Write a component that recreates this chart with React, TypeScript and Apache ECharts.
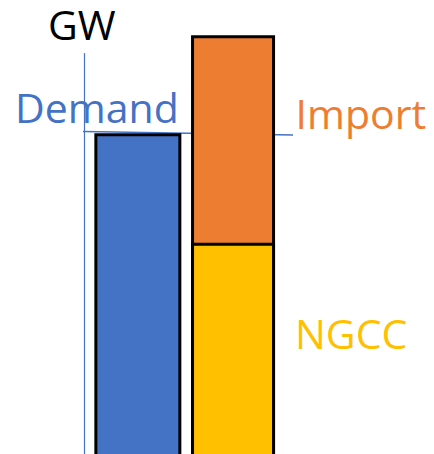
import React, { useEffect, useRef } from "react";
import * as echarts from "echarts";

const categories = ["Demand", "Supply"];
const demandValues = [80.9, "-"];
const ngccValues = ["-", 54.7];
const importValues = ["-", 49.7];
const demandLine = [
  [0, 81.3],
  [1, 80.5],
];
const labels = { unit: "GW", demand: "Demand", import: "Import", ngcc: "NGCC" };

const BLUE = "#4472C4";
const ORANGE = "#ED7D31";
const YELLOW = "#FFC000";
const FONT = "'Open Sans', sans-serif";

export default function App() {
  const ref = useRef<HTMLDivElement>(null);
  useEffect(() => {
    if (!ref.current) return;
    const chart = echarts.init(ref.current, null, { renderer: "svg" });
    const textStyle = (color: string) => ({
      fill: color,
      fontFamily: FONT,
      fontSize: 41,
      verticalAlign: "middle",
    });
    // import segment drawn as the full supply column, NGCC drawn over it
    const supplyTotals = ngccValues.map((v, i) =>
      v === "-" ? "-" : (v as number) + (importValues[i] as number)
    );
    chart.setOption({
      animation: false,
      grid: [
        { left: 88, right: 152.6, top: 53.5, bottom: 0 },
        { left: 83, right: 141, top: 53.5, bottom: 0 },
      ],
      xAxis: [
        { type: "category", gridIndex: 0, data: categories, show: false },
        { type: "value", gridIndex: 1, min: 0, max: 1, show: false },
      ],
      yAxis: [
        {
          type: "value",
          gridIndex: 0,
          min: 0,
          max: 100,
          offset: 4,
          z: 5,
          axisLine: { show: true, onZero: false, lineStyle: { color: BLUE, width: 1.2 } },
          axisTick: { show: false },
          axisLabel: { show: false },
          splitLine: { show: false },
        },
        {
          type: "value",
          gridIndex: 1,
          min: 0,
          max: 100,
          show: false,
        },
      ],
      series: [
        {
          name: labels.demand,
          type: "bar",
          data: demandValues,
          barWidth: 87,
          barGap: "-100%",
          clip: false,
          z: 3,
          itemStyle: { color: BLUE, borderColor: "#000", borderWidth: 3 },
        },
        {
          name: labels.import,
          type: "bar",
          data: supplyTotals,
          barWidth: 84,
          barGap: "-100%",
          clip: false,
          z: 3,
          itemStyle: { color: ORANGE, borderColor: "#000", borderWidth: 3 },
        },
        {
          name: labels.ngcc,
          type: "bar",
          data: ngccValues,
          barWidth: 84,
          barGap: "-100%",
          clip: false,
          z: 4,
          itemStyle: { color: YELLOW, borderColor: "#000", borderWidth: 3 },
        },
        {
          type: "line",
          xAxisIndex: 1,
          yAxisIndex: 1,
          data: demandLine,
          symbol: "none",
          clip: false,
          silent: true,
          z: 1,
          lineStyle: { color: BLUE, width: 1.5 },
        },
      ],
      graphic: [
        { type: "text", x: 48, y: 24, z: 0, style: { text: labels.unit, ...textStyle("#000") } },
        { type: "text", x: 15, y: 106.5, z: 0, style: { text: labels.demand, ...textStyle(BLUE) } },
        { type: "text", x: 295.5, y: 112.5, z: 0, style: { text: labels.import, ...textStyle(ORANGE) } },
        { type: "text", x: 295, y: 333, z: 0, style: { text: labels.ngcc, ...textStyle(YELLOW) } },
      ],
    });
    return () => chart.dispose();
  }, []);
  return (
    <div style={{ position: "fixed", left: 0, top: 0, width: 434, height: 454, overflow: "hidden", background: "#fff" }}>
      <div ref={ref} style={{ width: 434, height: 471 }} />
    </div>
  );
}
